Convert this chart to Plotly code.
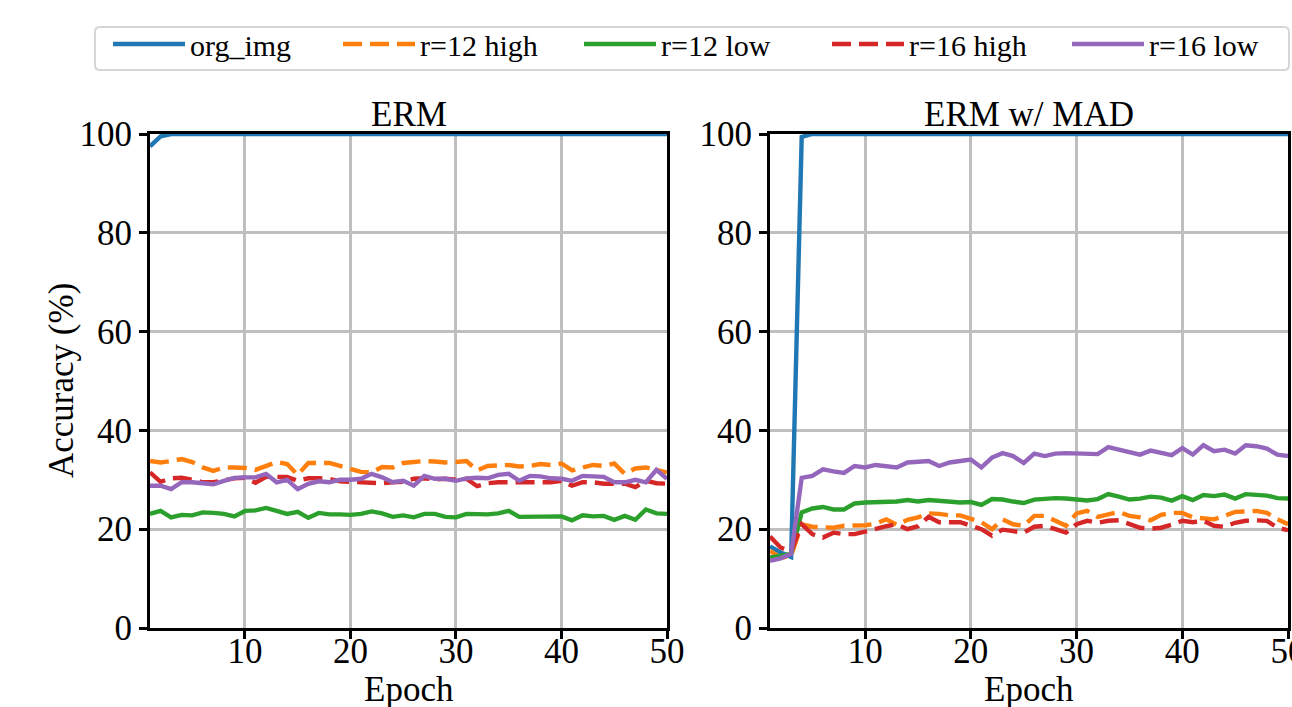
import plotly.graph_objects as go

epochs = list(range(1, 51))
series_names = ["org_img", "r=12 high", "r=12 low", "r=16 high", "r=16 low"]
colors = ["#1f77b4", "#ff7f0e", "#2ca02c", "#d62728", "#9467bd"]
dashes = ["solid", "19px,8px", "solid", "19px,8px", "solid"]
subplot_titles = ["ERM", "ERM w/ MAD"]
x_title = "Epoch"
y_title = "Accuracy (%)"
x_ticks = [10, 20, 30, 40, 50]
y_ticks = [0, 20, 40, 60, 80, 100]

# ---- ERM ----
erm_org = [97.5, 99.5, 100, 100, 100, 100, 100, 100, 100, 100,
           100, 100, 100, 100, 100, 100, 100, 100, 100, 100,
           100, 100, 100, 99.8, 100, 100, 100, 100, 100, 100,
           100, 100, 100, 100, 100, 100, 100, 100, 100, 100,
           100, 100, 100, 100, 100, 100, 100, 100, 100, 100]
erm_r12_high = [33.8, 33.5, 33.8, 34.2, 33.6, 32.5, 31.8, 32.5, 32.5, 32.4,
                32.0, 32.8, 33.6, 33.2, 31.0, 33.4, 33.3, 33.4, 32.8, 32.3,
                31.6, 31.5, 32.6, 32.5, 33.4, 33.6, 33.8, 33.7, 33.5, 33.6,
                33.8, 31.9, 32.8, 32.9, 33.0, 32.7, 32.8, 33.2, 33.0, 33.3,
                31.9, 32.5, 33.0, 32.8, 33.3, 31.2, 32.3, 32.5, 32.0, 31.5]
erm_r12_low = [23.1, 23.7, 22.4, 22.9, 22.8, 23.4, 23.3, 23.1, 22.6, 23.7,
               23.8, 24.3, 23.7, 23.1, 23.5, 22.3, 23.3, 23.0, 23.0, 22.9,
               23.1, 23.6, 23.2, 22.5, 22.8, 22.4, 23.1, 23.1, 22.5, 22.4,
               23.1, 23.0, 23.0, 23.2, 23.7, 22.5, 22.5, 22.6, 22.5, 22.6,
               21.8, 22.8, 22.6, 22.7, 21.9, 22.7, 21.9, 24.0, 23.2, 23.1]
erm_r16_high = [31.5, 29.6, 30.3, 30.4, 30.0, 29.5, 29.5, 30.0, 30.3, 30.4,
                29.4, 30.6, 30.7, 30.6, 29.8, 30.3, 30.3, 30.2, 29.7, 29.6,
                29.3, 29.2, 29.3, 29.5, 29.6, 30.2, 30.3, 30.1, 30.2, 30.0,
                30.2, 28.7, 29.3, 29.5, 29.5, 29.4, 29.6, 29.5, 29.5, 29.8,
                28.8, 29.5, 29.5, 29.2, 29.3, 29.2, 28.5, 29.8, 29.3, 29.2]
erm_r16_low = [28.8, 28.8, 28.1, 29.5, 29.5, 29.2, 29.1, 29.8, 30.4, 30.5,
               30.5, 31.2, 29.5, 30.0, 28.1, 29.2, 29.7, 29.5, 30.0, 30.0,
               30.2, 31.2, 30.5, 29.5, 29.8, 28.8, 30.8, 30.2, 30.2, 29.8,
               30.3, 30.4, 30.3, 31.0, 31.2, 29.8, 30.8, 30.7, 30.3, 30.2,
               29.8, 30.8, 30.8, 30.6, 29.5, 29.5, 30.0, 29.5, 32.0, 30.2]

# ---- ERM w/ MAD ----
mad_org = [16.5, 15.3, 14.4, 99.4, 100, 100, 100, 100, 100, 100,
           100, 100, 100, 100, 100, 100, 100, 100, 100, 100,
           100, 100, 100, 100, 100, 100, 100, 100, 100, 100,
           100, 100, 100, 100, 100, 100, 100, 100, 100, 100,
           100, 100, 100, 100, 100, 100, 100, 100, 100, 100]
mad_r12_high = [15.6, 14.2, 14.6, 21.0, 20.5, 20.3, 20.3, 20.7, 20.7, 20.8,
                21.1, 22.0, 20.9, 21.9, 22.4, 23.2, 23.1, 22.8, 22.8, 22.1,
                21.4, 20.0, 22.0, 21.0, 20.7, 22.7, 22.7, 21.7, 20.7, 23.2,
                23.7, 22.5, 23.0, 23.5, 22.7, 22.4, 21.8, 22.9, 23.3, 23.3,
                22.4, 22.2, 22.0, 22.7, 23.5, 23.6, 23.7, 23.3, 22.0, 21.0]
mad_r12_low = [14.3, 14.6, 15.0, 23.4, 24.2, 24.5, 24.0, 24.0, 25.2, 25.4,
               25.5, 25.4, 25.6, 25.9, 25.6, 25.9, 25.7, 25.5, 25.4, 25.5,
               24.9, 26.1, 26.0, 25.6, 25.3, 26.0, 26.2, 26.3, 26.2, 26.0,
               25.8, 26.1, 27.1, 26.6, 26.0, 26.2, 26.6, 26.4, 25.8, 26.7,
               25.9, 26.9, 26.7, 27.0, 26.2, 27.1, 27.0, 26.8, 26.3, 26.2]
mad_r16_high = [18.5, 16.3, 15.5, 21.0, 19.0, 18.3, 19.3, 19.0, 19.0, 19.6,
                20.0, 20.6, 21.0, 20.0, 20.6, 22.5, 21.4, 21.4, 21.4, 20.7,
                20.0, 18.7, 19.9, 19.6, 19.3, 20.5, 20.7, 20.0, 19.3, 21.0,
                21.7, 21.3, 21.7, 21.8, 21.0, 20.3, 20.1, 20.3, 20.9, 21.7,
                21.4, 21.7, 20.7, 20.5, 21.3, 21.7, 21.8, 21.7, 20.3, 19.8]
mad_r16_low = [13.6, 14.1, 15.0, 30.4, 30.8, 32.1, 31.7, 31.4, 32.8, 32.5,
               33.0, 32.8, 32.5, 33.5, 33.7, 33.8, 32.8, 33.5, 33.8, 34.1,
               32.5, 34.5, 35.4, 34.8, 33.4, 35.3, 34.8, 35.3, 35.4, 35.3,
               35.2, 35.2, 36.6, 36.1, 35.4, 35.1, 35.9, 35.4, 35.0, 36.4,
               35.1, 37.0, 35.8, 36.1, 35.3, 37.0, 36.8, 36.3, 35.1, 34.8]

erm_series = [erm_org, erm_r12_high, erm_r12_low, erm_r16_high, erm_r16_low]
mad_series = [mad_org, mad_r12_high, mad_r12_low, mad_r16_high, mad_r16_low]

W, H = 1292, 707
FONT = "Liberation Serif, Times New Roman, serif"


def fx(p):
    return p / W


def fy(p):
    return 1 - p / H


legend_ids = ["legend", "legend2", "legend3", "legend4", "legend5"]
# pixel x where each legend entry's handle begins (layout only)
legend_px = [113, 343, 584, 832, 1072]

fig = go.Figure()
for panel, data, xa, ya in [(0, erm_series, "x", "y"), (1, mad_series, "x2", "y2")]:
    for i in range(5):
        fig.add_trace(go.Scatter(
            x=epochs, y=data[i], mode="lines", name=series_names[i],
            line=dict(color=colors[i], width=4.4, dash=dashes[i]),
            xaxis=xa, yaxis=ya, showlegend=(panel == 0), legend=legend_ids[i],
        ))

dom_x1 = [fx(150), fx(667)]
dom_x2 = [fx(770), fx(1288)]
dom_y = [fy(628), fy(134)]


def axis_style(**kw):
    d = dict(
        showline=True, mirror=True, linecolor="black", linewidth=3,
        ticks="outside", ticklen=8, tickwidth=2.5, tickcolor="black",
        showgrid=True, gridcolor="#bfbfbf", gridwidth=3, zeroline=False,
        tickfont=dict(family=FONT, size=35, color="black"), automargin=False,
    )
    d.update(kw)
    return d


title_font = dict(family=FONT, size=35, color="black")

# rounded legend frame (matplotlib-like fancybox)
bx0, bx1, by0, by1, r = 95, 1289, 27, 70, 5
frame_path = (
    f"M {fx(bx0 + r)},{fy(by0)} L {fx(bx1 - r)},{fy(by0)} "
    f"Q {fx(bx1)},{fy(by0)} {fx(bx1)},{fy(by0 + r)} "
    f"L {fx(bx1)},{fy(by1 - r)} Q {fx(bx1)},{fy(by1)} {fx(bx1 - r)},{fy(by1)} "
    f"L {fx(bx0 + r)},{fy(by1)} Q {fx(bx0)},{fy(by1)} {fx(bx0)},{fy(by1 - r)} "
    f"L {fx(bx0)},{fy(by0 + r)} Q {fx(bx0)},{fy(by0)} {fx(bx0 + r)},{fy(by0)} Z"
)

legend_layouts = {}
for i, lid in enumerate(legend_ids):
    legend_layouts[lid] = dict(
        orientation="h", x=fx(legend_px[i] - 5), xanchor="left", y=fy(18), yanchor="top",
        font=dict(family=FONT, size=30, color="black"),
        borderwidth=0, bgcolor="rgba(0,0,0,0)", itemwidth=72,
    )

fig.update_layout(
    width=W, height=H,
    margin=dict(l=0, r=0, t=0, b=0),
    paper_bgcolor="white", plot_bgcolor="white",
    font=dict(family=FONT, color="black"),
    xaxis=axis_style(domain=dom_x1, range=[1, 50], tickvals=x_ticks, anchor="y",
                     ticklabelstandoff=-18),
    yaxis=axis_style(domain=dom_y, range=[0, 100], tickvals=y_ticks, anchor="x"),
    xaxis2=axis_style(domain=dom_x2, range=[1, 50], tickvals=x_ticks, anchor="y2",
                      ticklabelstandoff=-18, ticklabeloverflow="allow"),
    yaxis2=axis_style(domain=dom_y, range=[0, 100], tickvals=y_ticks, anchor="x2"),
    shapes=[dict(type="path", xref="paper", yref="paper", path=frame_path,
                 line=dict(color="#d6d6d6", width=2), fillcolor="white", layer="above")],
    annotations=[
        dict(text=subplot_titles[0], xref="paper", yref="paper",
             x=(dom_x1[0] + dom_x1[1]) / 2, y=fy(115), yanchor="middle", xanchor="center",
             showarrow=False, font=title_font),
        dict(text=subplot_titles[1], xref="paper", yref="paper",
             x=(dom_x2[0] + dom_x2[1]) / 2, y=fy(115), yanchor="middle", xanchor="center",
             showarrow=False, font=title_font),
        dict(text=x_title, xref="paper", yref="paper",
             x=(dom_x1[0] + dom_x1[1]) / 2, y=fy(689), yanchor="middle", xanchor="center",
             showarrow=False, font=title_font),
        dict(text=x_title, xref="paper", yref="paper",
             x=(dom_x2[0] + dom_x2[1]) / 2, y=fy(689), yanchor="middle", xanchor="center",
             showarrow=False, font=title_font),
        dict(text=y_title, xref="paper", yref="paper", textangle=-90,
             x=fx(62), y=fy(381), yanchor="middle", xanchor="center",
             showarrow=False, font=title_font),
    ],
    **legend_layouts,
)

fig.write_html(
    "out.html",
    config={"displayModeBar": False},
    post_script="document.body.style.margin='0';document.body.style.overflow='hidden';",
)
